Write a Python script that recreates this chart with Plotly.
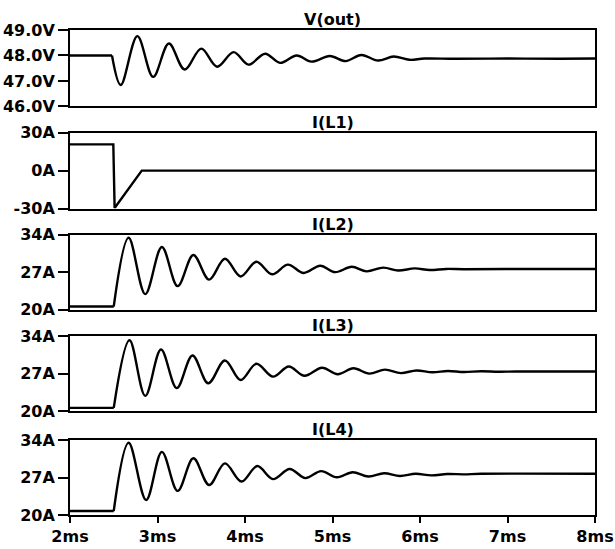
import plotly.graph_objects as go

# ---------------- data ----------------
titles = ["V(out)", "I(L1)", "I(L2)", "I(L3)", "I(L4)"]

x_tickvals = [2, 3, 4, 5, 6, 7, 8]
x_ticktext = ["2ms", "3ms", "4ms", "5ms", "6ms", "7ms", "8ms"]

vout_tickvals = [46, 47, 48, 49]
vout_ticktext = ["46.0V", "47.0V", "48.0V", "49.0V"]
il1_tickvals = [-30, 0, 30]
il1_ticktext = ["-30A", "0A", "30A"]
il_tickvals = [20, 27, 34]
il_ticktext = ["20A", "27A", "34A"]

# V(out): flat part, then damped ringing
vout_flat_t = [2.0, 2.48]
vout_flat_v = [48.0, 48.0]
vout_t = [2.48, 2.58, 2.77, 2.95, 3.13, 3.31, 3.50, 3.68, 3.87, 4.04, 4.23, 4.40,
          4.59, 4.76, 4.97, 5.15, 5.33, 5.52, 5.70, 5.88, 6.05, 6.40, 7.00, 7.60, 8.0]
vout_v = [48.0, 46.84, 48.76, 47.16, 48.47, 47.45, 48.27, 47.56, 48.13, 47.64, 48.07, 47.71,
          48.00, 47.76, 47.98, 47.78, 48.02, 47.80, 47.96, 47.83, 47.88, 47.87, 47.88, 47.87, 47.88]

# I(L1): step down then linear ramp to zero
il1_t = [2.0, 2.495, 2.51, 2.82, 8.0]
il1_i = [20.8, 20.8, -29.5, 0.0, 0.0]

# I(L2)
il2_flat_t = [2.0, 2.50]
il2_flat_i = [20.6, 20.6]
il2_t = [2.50, 2.67, 2.86, 3.05, 3.23, 3.41, 3.59, 3.77, 3.95, 4.13, 4.31, 4.49, 4.67,
         4.86, 5.03, 5.22, 5.39, 5.58, 5.75, 5.94, 6.11, 6.30, 6.50, 7.20, 8.0]
il2_i = [20.6, 33.4, 22.9, 31.7, 24.4, 30.2, 25.6, 29.5, 26.2, 28.95, 26.6, 28.4, 26.85,
         28.2, 27.0, 28.0, 27.15, 27.85, 27.3, 27.7, 27.4, 27.6, 27.55, 27.6, 27.6]

# I(L3)
il3_flat_t = [2.0, 2.50]
il3_flat_i = [20.6, 20.6]
il3_t = [2.50, 2.68, 2.86, 3.04, 3.22, 3.40, 3.58, 3.77, 3.95, 4.13, 4.32, 4.50, 4.68,
         4.88, 5.06, 5.24, 5.42, 5.60, 5.78, 5.96, 6.14, 6.32, 6.50, 6.70, 6.90, 7.10, 8.0]
il3_i = [20.6, 33.25, 22.85, 31.5, 24.3, 30.4, 25.2, 29.46, 25.8, 28.84, 26.44, 28.33, 26.6,
         28.1, 26.9, 28.0, 27.0, 27.75, 27.1, 27.6, 27.25, 27.5, 27.3, 27.45, 27.35, 27.4, 27.4]

# I(L4)
il4_flat_t = [2.0, 2.50]
il4_flat_i = [20.75, 20.75]
il4_t = [2.50, 2.67, 2.87, 3.05, 3.23, 3.41, 3.59, 3.77, 3.96, 4.14, 4.32, 4.51, 4.69,
         4.87, 5.05, 5.23, 5.41, 5.59, 5.77, 5.95, 6.13, 6.31, 6.50, 6.70, 8.0]
il4_i = [20.75, 33.5, 22.8, 31.8, 24.5, 30.6, 25.6, 29.65, 26.25, 29.15, 26.7, 28.6, 26.9,
         28.2, 27.05, 28.0, 27.2, 27.8, 27.3, 27.7, 27.4, 27.65, 27.6, 27.7, 27.7]

# ---------------- layout ----------------
W, H = 615, 549
plot_left, plot_right = 70, 595
plot_top, plot_bottom = 29.5, 515
ML, MR, MT, MB = plot_left, W - plot_right, plot_top, H - plot_bottom
plot_h = plot_bottom - plot_top
panel_px = [(29.5, 106.0), (132.3, 208.3), (234.3, 309.5), (336.0, 411.0), (440.0, 515.0)]
domains = [[max(0.0, (plot_bottom - b) / plot_h), min(1.0, (plot_bottom - t) / plot_h)]
           for t, b in panel_px]

FAMILY = "DejaVu Sans, Liberation Sans, Arial, sans-serif"
FONT = dict(family=FAMILY, size=16, color="black", weight="bold")

fig = go.Figure()

def add(t, v, k, shape):
    line = dict(color="black", width=2.4, shape=shape)
    if shape == "spline":
        line["smoothing"] = 1.0
    fig.add_trace(go.Scatter(x=t, y=v, mode="lines", line=line, cliponaxis=True,
                             xaxis="x" if k == 1 else f"x{k}", yaxis="y" if k == 1 else f"y{k}",
                             showlegend=False, hoverinfo="skip"))

add(vout_flat_t, vout_flat_v, 1, "linear")
add(vout_t, vout_v, 1, "spline")
add(il1_t, il1_i, 2, "linear")
add(il2_flat_t, il2_flat_i, 3, "linear")
add(il2_t, il2_i, 3, "spline")
add(il3_flat_t, il3_flat_i, 4, "linear")
add(il3_t, il3_i, 4, "spline")
add(il4_flat_t, il4_flat_i, 5, "linear")
add(il4_t, il4_i, 5, "spline")

yinfo = [([46, 49], vout_tickvals, vout_ticktext),
         ([-30, 30], il1_tickvals, il1_ticktext),
         ([20, 34], il_tickvals, il_ticktext),
         ([20, 34], il_tickvals, il_ticktext),
         ([20, 34], il_tickvals, il_ticktext)]

layout = dict(width=W, height=H, margin=dict(l=ML, r=MR, t=MT, b=MB, pad=0, autoexpand=False),
              paper_bgcolor="white", plot_bgcolor="white", showlegend=False)
annotations = []
for k in range(1, 6):
    xa = "xaxis" if k == 1 else f"xaxis{k}"
    ya = "yaxis" if k == 1 else f"yaxis{k}"
    yref = "y" if k == 1 else f"y{k}"
    xref = "x" if k == 1 else f"x{k}"
    last = (k == 5)
    layout[xa] = dict(domain=[0, 1], anchor=yref, range=[2, 8], showgrid=False, zeroline=False,
                      showline=True, linecolor="black", linewidth=2, mirror=True, automargin=False,
                      tickvals=x_tickvals, ticktext=x_ticktext,
                      showticklabels=last, ticks="outside" if last else "",
                      ticklen=6, tickwidth=2, tickcolor="black", tickfont=FONT)
    rng, tv, tt = yinfo[k - 1]
    layout[ya] = dict(domain=domains[k - 1], anchor=xref, range=rng, showgrid=False, zeroline=False,
                      showline=True, linecolor="black", linewidth=2, mirror=True, automargin=False,
                      tickvals=tv, ticktext=tt, ticks="outside", ticklen=10, tickwidth=2,
                      tickcolor="black", tickfont=FONT)
    annotations.append(dict(text=titles[k - 1], x=0.5, xref="paper", y=domains[k - 1][1], yref="paper",
                            yanchor="bottom", xanchor="center", showarrow=False, yshift=-1,
                            font=dict(family=FAMILY, size=16, color="black", weight="bold")))
layout["annotations"] = annotations
fig.update_layout(**layout)

# remove the browser's default 8px page margin so the figure sits at the window origin
fig.write_html("out.html",
               config={"displayModeBar": False, "staticPlot": True},
               post_script="document.body.style.margin='0';document.body.style.padding='0';"
                           "document.documentElement.style.overflow='hidden';")
